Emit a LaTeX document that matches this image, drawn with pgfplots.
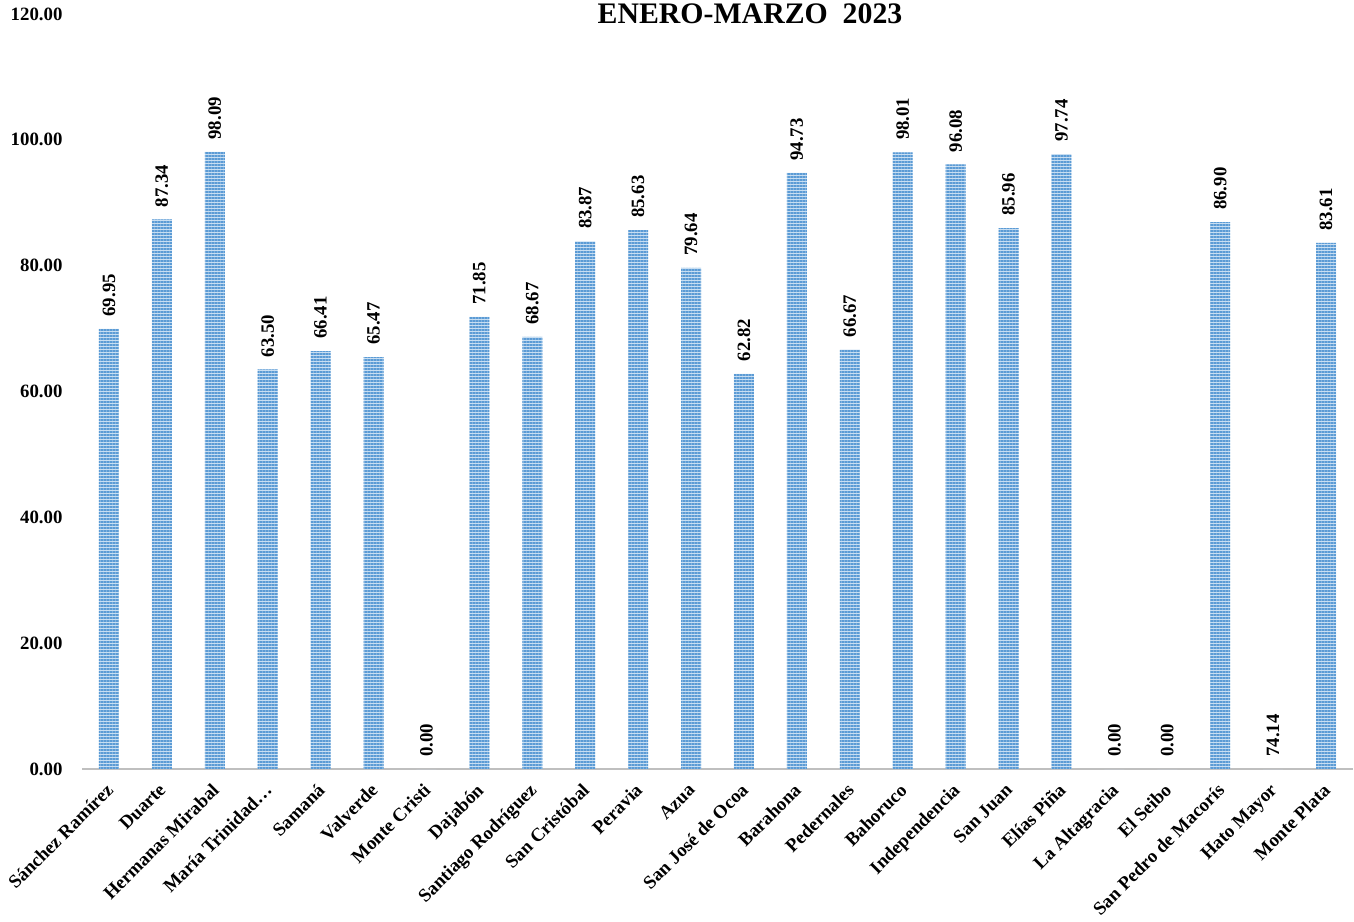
\documentclass[border=0pt]{standalone}
\usepackage{pgfplots}
\pgfplotsset{compat=1.18}
\usepackage{pgfplotstable}
\usepackage{fontspec}
\setmainfont{Liberation Serif}
\usetikzlibrary{patterns.meta}
\definecolor{barblue}{RGB}{91,155,213}
\definecolor{barlight}{RGB}{200,222,242}
\definecolor{axisgrey}{RGB}{191,191,191}
\pgfplotstableread[col sep=comma]{
x,y,lab
0,69.95,69.95
1,87.34,87.34
2,98.09,98.09
3,63.50,63.50
4,66.41,66.41
5,65.47,65.47
6,0,0.00
7,71.85,71.85
8,68.67,68.67
9,83.87,83.87
10,85.63,85.63
11,79.64,79.64
12,62.82,62.82
13,94.73,94.73
14,66.67,66.67
15,98.01,98.01
16,96.08,96.08
17,85.96,85.96
18,97.74,97.74
19,0,0.00
20,0,0.00
21,86.90,86.90
22,0,74.14
23,83.61,83.61
}\data
\begin{document}
\begin{tikzpicture}
\begin{axis}[
  scale only axis,
  width=635pt, height=377.5pt,
  xmin=-0.5, xmax=23.5,
  ymin=0, ymax=120,
  ytick={0,20,...,120},
  axis x line*=bottom,
  axis y line*=left,
  y axis line style={draw=none},
  x axis line style={draw=axisgrey, line width=1.2pt, -},
  major tick length=0pt,
  xtick=data,
  xticklabels={Sánchez Ramírez,Duarte,Hermanas Mirabal,María Trinidad…,Samaná,Valverde,Monte Cristi,Dajabón,Santiago Rodríguez,San Cristóbal,Peravia,Azua,San José de Ocoa,Barahona,Pedernales,Bahoruco,Independencia,San Juan,Elías Piña,La Altagracia,El Seibo,San Pedro de Macorís,Hato Mayor,Monte Plata},
  xticklabel style={font=\bfseries\fontsize{9.4}{10}\selectfont, xshift=-2pt, yshift=-5pt, rotate=45, anchor=north east, inner sep=1pt},
  yticklabel style={font=\bfseries\fontsize{9.4}{10}\selectfont, xshift=-6.5pt},
  /pgf/number format/.cd, fixed, fixed zerofill, precision=2, assume math mode=true,
  /pgfplots/.cd,
  ybar, bar width=10pt,
  point meta=explicit symbolic,
  nodes near coords,
  nodes near coords style={font=\bfseries\fontsize{9.4}{10}\selectfont, rotate=90, anchor=west, inner sep=6pt, text=black},
  clip=false,
]
\addplot[draw=none, fill=barlight, postaction={pattern={Lines[angle=0,distance=1.5pt,line width=0.85pt]}, pattern color=barblue}] table[x=x, y=y, meta=lab] {\data};
\node[font=\bfseries\fontsize{14.9}{17}\selectfont] at (rel axis cs:0.5256,1) {ENERO-MARZO\ \ 2023};
\coordinate (O) at (rel axis cs:0,0);
\end{axis}
\pgfresetboundingbox
\useasboundingbox ([shift={(-41.25pt,-76pt)}]O) rectangle ++(677pt,460.5pt);
\end{tikzpicture}
\end{document}
